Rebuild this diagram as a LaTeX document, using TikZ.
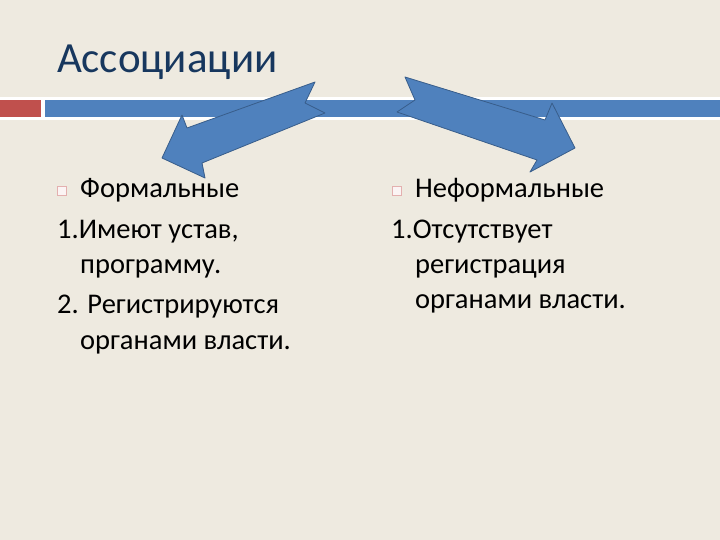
\documentclass[tikz,border=0pt]{standalone}
\usepackage{fontspec}
\setmainfont{Carlito}
\usetikzlibrary{positioning}
\definecolor{slidebg}{RGB}{238,234,224}
\definecolor{accentblue}{RGB}{79,129,189}
\definecolor{accentred}{RGB}{192,80,77}
\definecolor{titleblue}{RGB}{23,55,94}
\definecolor{arrowline}{RGB}{56,93,138}

\begin{document}
\begin{tikzpicture}[
  x=1pt, y=-1pt,
  titletext/.style={anchor=base west, inner sep=0pt, text=titleblue,
                    font=\fontsize{43}{52}\selectfont},
  bodytext/.style={anchor=base west, inner sep=0pt, font=\fontsize{28.5}{34}\selectfont},
  bulletbox/.style={draw=accentred!45, fill=accentred!6, minimum size=9pt,
                    inner sep=0pt, line width=0.6pt},
  blockarrow/.style={fill=accentblue, draw=arrowline, line width=0.8pt, line join=round}
]
  % slide background and title bar
  \fill[slidebg] (0,0) rectangle (720,540);
  \fill[white] (0,97) rectangle (720,120);
  \fill[accentred] (0,100) rectangle (41,117);
  \fill[accentblue] (45,100) rectangle (720,117);

  \node[titletext] (title) at (57,73) {Ассоциации};

  % block arrows
  \draw[blockarrow] (315,82) -- (305,103) -- (325,113) -- (202,163) -- (205,178)
    -- (162,158) -- (182,115) -- (187,128) -- cycle;
  \draw[blockarrow] (405,77) -- (545,120) -- (552,103) -- (575,148) -- (530,172)
    -- (537,160) -- (397,112) -- (415,100) -- cycle;

  % left column
  \node[bulletbox] (b1) at (61.5,190.5) {};
  \node[bodytext] (f1) at (80,197) {Формальные};
  \node[bodytext] (f2) at (57,239) {1.Имеют устав,};
  \node[bodytext] (f3) at (80,273) {программу.};
  \node[bodytext] (f4) at (57,313) {2. Регистрируются};
  \node[bodytext] (f5) at (80,349) {органами власти.};

  % right column
  \node[bulletbox] (b2) at (396.5,190.5) {};
  \node[bodytext] (n1) at (415,197) {Неформальные};
  \node[bodytext] (n2) at (391,239) {1.Отсутствует};
  \node[bodytext] (n3) at (415,273) {регистрация};
  \node[bodytext] (n4) at (415,308) {органами власти.};
\end{tikzpicture}
\end{document}
